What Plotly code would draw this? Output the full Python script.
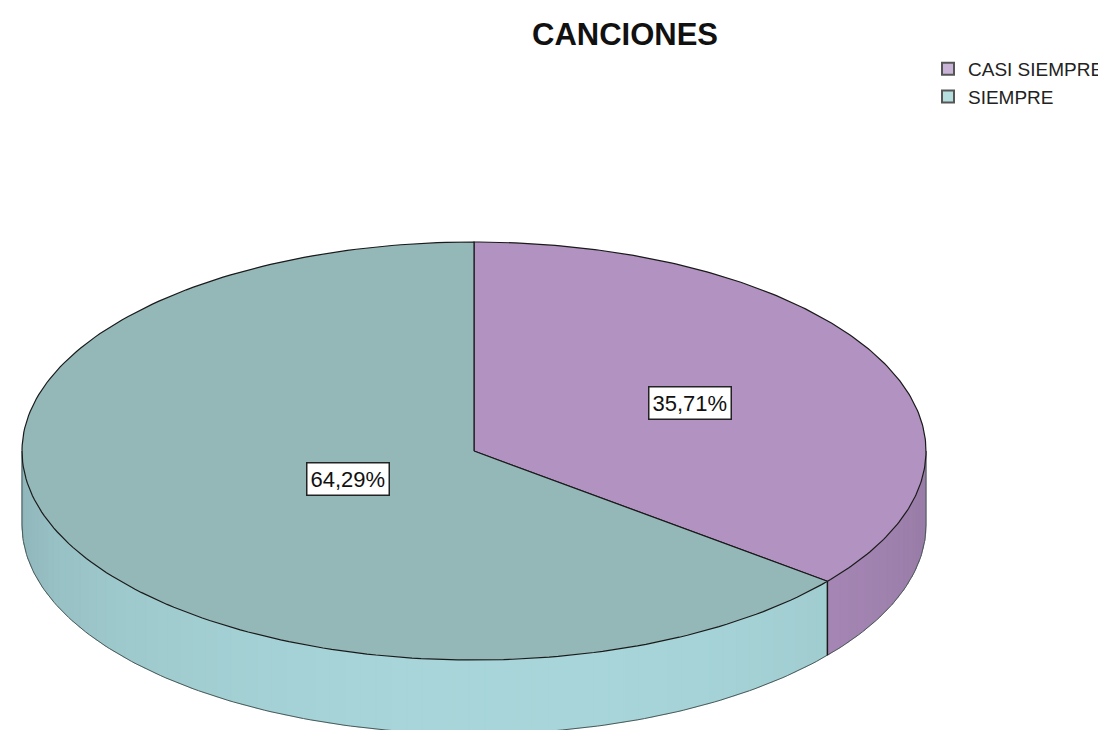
import numpy as np
import plotly.graph_objects as go

# ---- data ----
categories = ["CASI SIEMPRE", "SIEMPRE"]
counts = [5, 9]
title_text = "CANCIONES"

# ---- styles ----
top_colors = ["#B192C1", "#94B8B8"]
side_colors = [(172, 140, 188), (168, 214, 218)]
legend_colors = ["#C9B4D8", "#B5DEDE"]
label_radius = [0.53, 0.31]

# ellipse geometry (pixel space)
CX, CY, RX, RY, DEPTH = 466, 443, 452, 209, 74


def pt(theta_deg, r=1.0):
    t = np.radians(theta_deg)
    return CX + r * RX * np.sin(t), CY - r * RY * np.cos(t)


total = sum(counts)
fracs = [c / total for c in counts]
bounds = np.concatenate([[0], np.cumsum(fracs) * 360])

fig = go.Figure()

# ---- side walls (front half: 90..270 deg) ----
for i in range(len(categories)):
    a0, a1 = bounds[i], bounds[i + 1]
    s, e = max(a0, 90), min(a1, 270)
    if e <= s:
        continue
    edges = np.arange(s, e, 2.0).tolist() + [e]
    for k in range(len(edges) - 1):
        th = np.linspace(edges[k], min(edges[k + 1] + 0.4, e), 4)
        xs, ys = pt(th)
        px = np.concatenate([xs, xs[::-1], xs[:1]])
        py = np.concatenate([ys, (ys + DEPTH)[::-1], ys[:1]])
        mid = 0.5 * (edges[k] + edges[k + 1])
        f = 0.86 + 0.14 * np.cos(np.radians(mid - 175))
        r, g, b = [int(min(255, c * f)) for c in side_colors[i]]
        col = f"rgb({r},{g},{b})"
        fig.add_trace(go.Scatter(x=px, y=py, mode="lines", fill="toself",
                                 fillcolor=col, line=dict(color=col, width=0.6),
                                 hoverinfo="skip", showlegend=False))

# bottom outline and side verticals
thb = np.linspace(90, 270, 200)
bx, by = pt(thb)
fig.add_trace(go.Scatter(x=bx, y=by + DEPTH, mode="lines",
                         line=dict(color="#4a5a5a", width=1),
                         hoverinfo="skip", showlegend=False))
for a in [90, 270]:
    x0, y0 = pt(a)
    fig.add_trace(go.Scatter(x=[x0, x0], y=[y0, y0 + DEPTH], mode="lines",
                             line=dict(color="#4a5a5a", width=1),
                             hoverinfo="skip", showlegend=False))

# ---- top faces ----
for i, cat in enumerate(categories):
    th = np.linspace(bounds[i], bounds[i + 1], 200)
    xs, ys = pt(th)
    px = np.concatenate([[CX], xs, [CX]])
    py = np.concatenate([[CY], ys, [CY]])
    fig.add_trace(go.Scatter(x=px, y=py, mode="lines", fill="toself",
                             fillcolor=top_colors[i],
                             line=dict(color="#1a1a1a", width=1.2),
                             hoverinfo="skip", showlegend=False))

# divider on the side wall
for a in bounds[1:-1]:
    if 90 <= a <= 270:
        x0, y0 = pt(a)
        fig.add_trace(go.Scatter(x=[x0, x0], y=[y0, y0 + DEPTH], mode="lines",
                                 line=dict(color="#1a1a1a", width=1.5),
                                 hoverinfo="skip", showlegend=False))

# ---- legend entries ----
for i, cat in enumerate(categories):
    fig.add_trace(go.Scatter(x=[None], y=[None], mode="markers", name=cat,
                             marker=dict(symbol="square", size=16,
                                         color=legend_colors[i],
                                         line=dict(color="#555555", width=1.5))))

# ---- percentage labels ----
for i in range(len(categories)):
    mid = 0.5 * (bounds[i] + bounds[i + 1])
    lx, ly = pt(mid, label_radius[i])
    txt = f"{fracs[i] * 100:.2f}%".replace(".", ",")
    fig.add_annotation(x=lx, y=ly, xref="x", yref="y", text=txt, showarrow=False,
                       font=dict(family="Arial, Liberation Sans", size=22, color="#111"),
                       bgcolor="white", bordercolor="#222", borderwidth=1.5, borderpad=3)

fig.add_annotation(x=617, y=26, xref="x", yref="y", text=f"<b>{title_text}</b>",
                   showarrow=False,
                   font=dict(family="Arial, Liberation Sans", size=31, color="#111"))

fig.update_layout(
    width=1106, height=730, autosize=False,
    margin=dict(l=0, r=0, t=0, b=0, autoexpand=False),
    paper_bgcolor="white", plot_bgcolor="white",
    xaxis=dict(range=[0, 1106], visible=False, fixedrange=True),
    yaxis=dict(range=[730, 0], visible=False, fixedrange=True),
    showlegend=True,
    legend=dict(x=920 / 1106, y=1 - 42 / 730, xanchor="left", yanchor="top",
                font=dict(family="Arial, Liberation Sans", size=19, color="#222"),
                bgcolor="rgba(0,0,0,0)", itemsizing="constant",
                tracegroupgap=0, itemwidth=30),
)

fig.write_html("out.html")
